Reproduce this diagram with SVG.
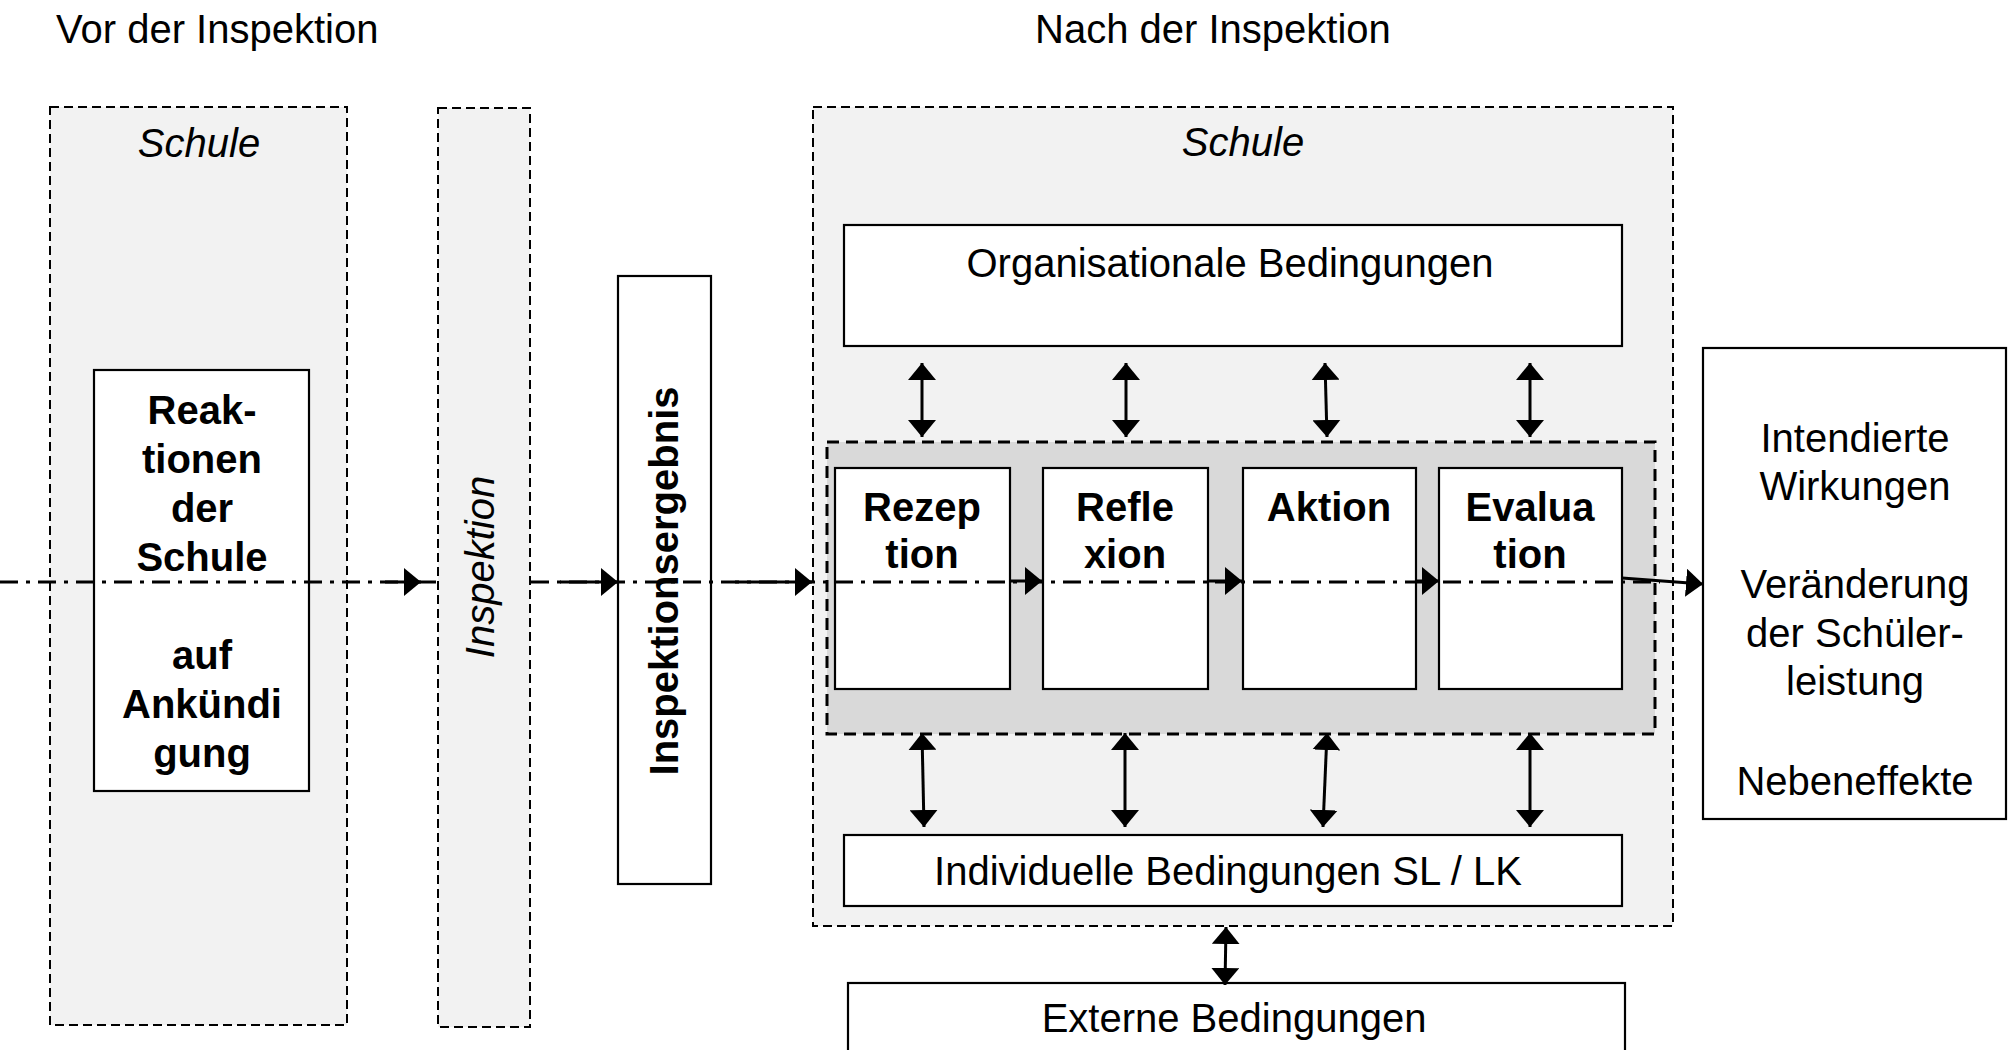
<svg xmlns="http://www.w3.org/2000/svg" width="2009" height="1050" viewBox="0 0 2009 1050">
<style>
text{font-family:"Liberation Sans",Arial,sans-serif;font-size:40px;fill:#000}
.b{font-weight:bold}
.i{font-style:italic}
.m{text-anchor:middle}
.outer{fill:#f2f2f2;stroke:#000;stroke-width:2;stroke-dasharray:9 5}
.inner{fill:#d9d9d9;stroke:#000;stroke-width:3;stroke-dasharray:12 7}
.box{fill:#fff;stroke:#000;stroke-width:2.2}
.dd{fill:none;stroke:#000;stroke-width:3;stroke-dasharray:18 8 4 8}
.sl{fill:none;stroke:#000;stroke-width:3}
.da{fill:none;stroke:#000;stroke-width:3;marker-start:url(#ah);marker-end:url(#ah)}
.ar{fill:none;stroke:#000;stroke-width:3;marker-end:url(#ah)}
</style>
<defs>
<marker id="ah" markerUnits="userSpaceOnUse" markerWidth="18" markerHeight="28" refX="17" refY="14" orient="auto-start-reverse" viewBox="0 0 18 28">
<path d="M0,0 L17,14 L0,28 z" fill="#000"/>
</marker>
</defs>
<rect width="2009" height="1050" fill="#fff"/>

<g id="headings">
<text x="56" y="43">Vor der Inspektion</text>
<text x="1035" y="43">Nach der Inspektion</text>
</g>

<g id="schule-vor">
<rect class="outer" x="50" y="107" width="297" height="918"/>
<text class="i m" x="199" y="157">Schule</text>
</g>

<g id="inspektion">
<rect class="outer" x="438" y="108" width="92" height="919"/>
<text class="i m" transform="translate(494,567) rotate(-90)">Inspektion</text>
</g>

<g id="schule-nach">
<rect class="outer" x="813" y="107" width="860" height="819"/>
<text class="i m" x="1243" y="156">Schule</text>
</g>

<g id="prozess">
<rect class="inner" x="827" y="442" width="828" height="292"/>
</g>

<g id="reaktionen">
<rect class="box" x="94" y="370" width="215" height="421"/>
<text class="b m" x="202" y="424">Reak-</text>
<text class="b m" x="202" y="473">tionen</text>
<text class="b m" x="202" y="522">der</text>
<text class="b m" x="202" y="571">Schule</text>
<text class="b m" x="202" y="669">auf</text>
<text class="b m" x="202" y="718">Ankündi</text>
<text class="b m" x="202" y="767">gung</text>
</g>

<g id="inspektionsergebnis">
<rect class="box" x="618" y="276" width="93" height="608"/>
<text class="b m" transform="translate(678,581) rotate(-90)">Inspektionsergebnis</text>
</g>

<g id="organisationale">
<rect class="box" x="844" y="225" width="778" height="121"/>
<text class="m" x="1230" y="277">Organisationale Bedingungen</text>
</g>

<g id="rezeption">
<rect class="box" x="835" y="468" width="175" height="221"/>
<text class="b m" x="922" y="521">Rezep</text>
<text class="b m" x="922" y="568">tion</text>
</g>

<g id="reflexion">
<rect class="box" x="1043" y="468" width="165" height="221"/>
<text class="b m" x="1125" y="521">Refle</text>
<text class="b m" x="1125" y="568">xion</text>
</g>

<g id="aktion">
<rect class="box" x="1243" y="468" width="173" height="221"/>
<text class="b m" x="1329" y="521">Aktion</text>
</g>

<g id="evaluation">
<rect class="box" x="1439" y="468" width="183" height="221"/>
<text class="b m" x="1530" y="521">Evalua</text>
<text class="b m" x="1530" y="568">tion</text>
</g>

<g id="individuelle">
<rect class="box" x="844" y="835" width="778" height="71"/>
<text class="m" x="1228" y="885">Individuelle Bedingungen SL / LK</text>
</g>

<g id="externe">
<rect class="box" x="848" y="983" width="777" height="90"/>
<text class="m" x="1234" y="1032">Externe Bedingungen</text>
</g>

<g id="wirkungen">
<rect class="box" x="1703" y="348" width="303" height="471"/>
<text class="m" x="1855" y="452">Intendierte</text>
<text class="m" x="1855" y="500">Wirkungen</text>
<text class="m" x="1855" y="598">Veränderung</text>
<text class="m" x="1855" y="647">der Schüler-</text>
<text class="m" x="1855" y="695">leistung</text>
<text class="m" x="1855" y="795">Nebeneffekte</text>
</g>

<g id="connectors">
<path class="dd" d="M0,582 H437"/>
<path class="dd" d="M531,582 H1660"/>
<path class="ar" d="M385,582 H421"/>
<path class="ar" d="M560,582 H618"/>
<path class="ar" d="M735,582 H812"/>
<path class="ar" d="M1010,581 H1042"/>
<path class="ar" d="M1208,581 H1242"/>
<path class="ar" d="M1416,581 H1439"/>
<path class="ar" d="M1622,578 L1703,584"/>
<path class="da" d="M922,363 V437"/>
<path class="da" d="M1126,363 V437"/>
<path class="da" d="M1325,363 L1327,437"/>
<path class="da" d="M1530,363 V437"/>
<path class="da" d="M922,733 L924,827"/>
<path class="da" d="M1125,733 V827"/>
<path class="da" d="M1327,733 L1323,827"/>
<path class="da" d="M1530,733 V827"/>
<path class="da" d="M1226,927 L1225,985"/>
</g>
</svg>
